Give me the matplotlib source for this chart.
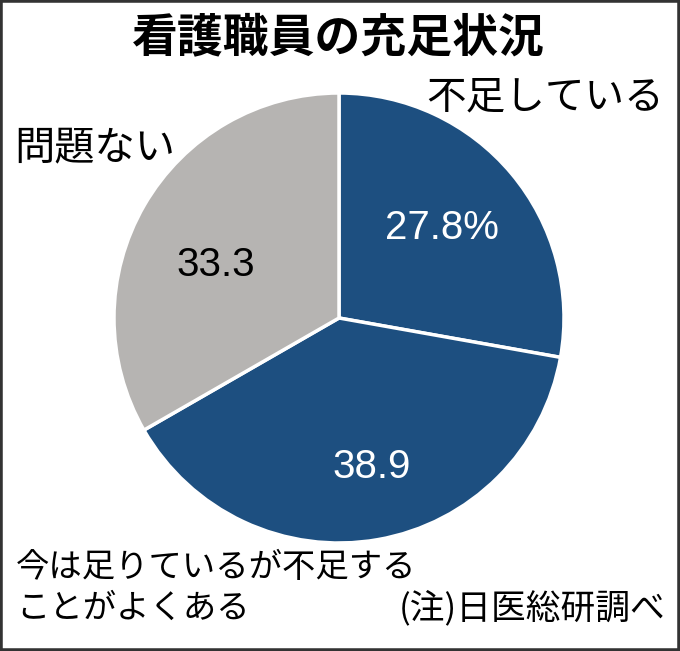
import matplotlib.pyplot as plt
from matplotlib.patches import Rectangle

plt.rcParams['font.family'] = ['Noto Sans CJK JP', 'DejaVu Sans']

# data
labels = ["不足している", "今は足りているが不足する\nことがよくある", "問題ない"]
values = [27.8, 38.9, 33.3]
value_text = ["27.8%", "38.9", "33.3"]
colors = ["#1d4f80", "#1d4f80", "#b6b4b2"]

fig = plt.figure(figsize=(6.8, 6.51), dpi=100)
ax = fig.add_axes([0, 0, 1, 1])
ax.set_xlim(0, 680)
ax.set_ylim(0, 651)
ax.set_aspect("equal")
ax.axis("off")

# pie (center in pixels, y counted from bottom)
ax.pie(values, colors=colors, startangle=90, counterclock=False,
       center=(339, 333), radius=225,
       wedgeprops=dict(edgecolor="white", linewidth=2.5))
ax.set_xlim(0, 680)
ax.set_ylim(0, 651)

# values on slices
num_font = ["Liberation Sans", "Noto Sans CJK JP"]
ax.text(442, 651 - 228, value_text[0], color="white", fontsize=29,
        ha="center", va="center", family=num_font)
ax.text(372, 651 - 467, value_text[1], color="white", fontsize=29,
        ha="center", va="center", family=num_font)
ax.text(216, 651 - 265, value_text[2], color="black", fontsize=29,
        ha="center", va="center", family=num_font)

# category labels
ax.text(664, 651 - 97, labels[0], fontsize=28.5, ha="right", va="center")
ax.text(14, 651 - 148, labels[2], fontsize=29, ha="left", va="center")
ax.text(16, 651 - 588, labels[1], fontsize=24, ha="left", va="center",
        linespacing=1.2)

# title and note
ax.text(338, 651 - 38, "看護職員の充足状況", fontsize=33, fontweight="bold",
        ha="center", va="center")
ax.text(666, 651 - 608, "(注)日医総研調べ", fontsize=25, ha="right",
        va="center")

# frame
fig.patches.append(Rectangle((0, 0), 1, 1, transform=fig.transFigure,
                             fill=False, edgecolor="#333333", linewidth=4))

fig.savefig("out.png", dpi=100)
